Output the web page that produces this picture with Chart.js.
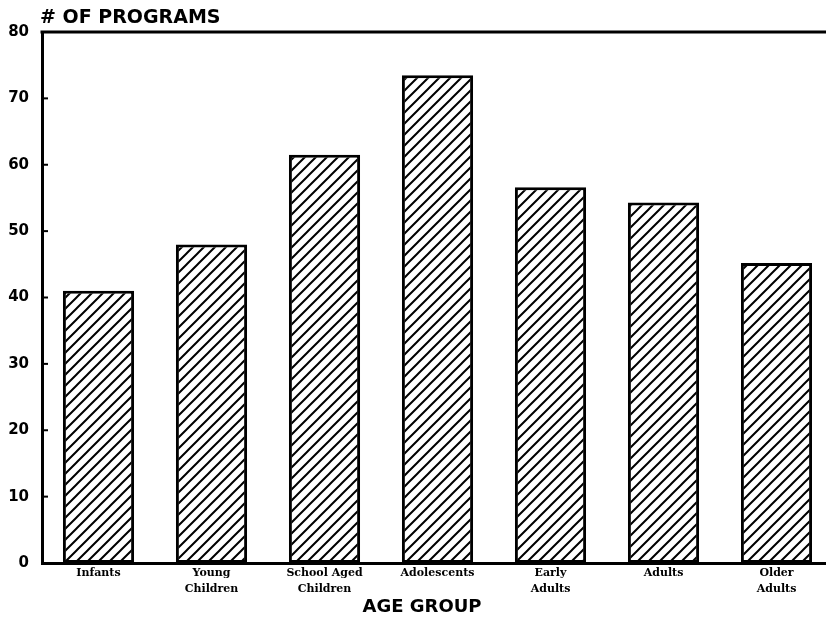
<!DOCTYPE html>
<html>
<head>
<meta charset="utf-8">
<script src="https://cdn.jsdelivr.net/npm/chart.js@4/dist/chart.umd.min.js"></script>
<style>
  html, body { margin: 0; padding: 0; background: #fff; overflow: hidden; }
  #wrap { width: 840px; height: 621px; }
</style>
</head>
<body>
<div id="wrap"><canvas id="chart" width="840" height="621"></canvas></div>
<script>
// values
const ageGroups = [
  ['Infants'],
  ['Young', 'Children'],
  ['School Aged', 'Children'],
  ['Adolescents'],
  ['Early', 'Adults'],
  ['Adults'],
  ['Older', 'Adults']
];
const programCounts = [41, 48, 61.5, 73.5, 56.6, 54.3, 45.2];
const yTicks = [0, 10, 20, 30, 40, 50, 60, 70, 80];

const yTitle = '# OF PROGRAMS';
const xTitle = 'AGE GROUP';

// diagonal hatch like the old plotter fill
function makeHatch() {
  const n = 11;
  const c = document.createElement('canvas');
  c.width = n; c.height = n;
  const g = c.getContext('2d');
  g.fillStyle = '#fff';
  g.fillRect(0, 0, n, n);
  g.strokeStyle = '#000';
  g.lineWidth = 2;
  g.beginPath();
  g.moveTo(-2, n + 2); g.lineTo(n + 2, -2);
  g.moveTo(-2, 2); g.lineTo(2, -2);
  g.moveTo(n - 2, n + 2); g.lineTo(n + 2, n - 2);
  g.stroke();
  return g.createPattern(c, 'repeat');
}

const decor = {
  id: 'decor',
  afterDraw(chart) {
    const ctx = chart.ctx;
    const a = chart.chartArea;
    const y = chart.scales.y;
    ctx.save();
    ctx.strokeStyle = '#000';
    // top frame line
    ctx.lineWidth = 3;
    ctx.beginPath();
    ctx.moveTo(a.left - 1.5, a.top);
    ctx.lineTo(a.right, a.top);
    ctx.stroke();
    // inward tick marks
    ctx.lineWidth = 2;
    yTicks.forEach(v => {
      const py = y.getPixelForValue(v);
      ctx.beginPath();
      ctx.moveTo(a.left, py);
      ctx.lineTo(a.left + 6, py);
      ctx.stroke();
    });
    ctx.fillStyle = '#000';
    ctx.font = 'bold 19px "DejaVu Sans"';
    ctx.textBaseline = 'middle';
    ctx.textAlign = 'left';
    ctx.fillText(yTitle, 40, 18);
    ctx.font = 'bold 18px "DejaVu Sans"';
    ctx.textAlign = 'center';
    ctx.fillText(xTitle, 422, 607);
    ctx.restore();
  }
};

new Chart(document.getElementById('chart'), {
  type: 'bar',
  data: {
    labels: ageGroups,
    datasets: [{
      data: programCounts,
      backgroundColor: makeHatch(),
      borderColor: '#000',
      borderWidth: 3,
      borderSkipped: false,
      categoryPercentage: 1,
      barPercentage: 0.63
    }]
  },
  options: {
    responsive: false,
    animation: false,
    layout: { padding: { top: 32, right: 7, left: 0, bottom: 0 } },
    plugins: {
      legend: { display: false },
      tooltip: { enabled: false }
    },
    scales: {
      x: {
        grid: { display: false },
        border: { display: true, color: '#000', width: 3 },
        ticks: {
          color: '#000',
          font: { family: 'DejaVu Serif', size: 11, weight: 'bold', lineHeight: 1.45 },
          maxRotation: 0,
          autoSkip: false,
          padding: -6
        },
        afterFit(s) { s.height = 58; }
      },
      y: {
        min: 0,
        max: 80,
        grid: { display: false },
        border: { display: true, color: '#000', width: 3 },
        ticks: {
          stepSize: 10,
          color: '#000',
          font: { family: 'DejaVu Sans', size: 15, weight: 'bold' },
          padding: 5
        },
        afterFit(s) { s.width = 42; }
      }
    }
  },
  plugins: [decor]
});
</script>
</body>
</html>
